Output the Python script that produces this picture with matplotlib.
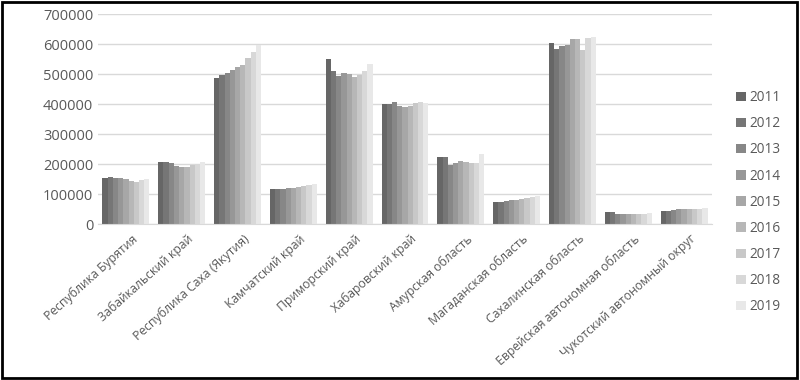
import matplotlib.pyplot as plt
import matplotlib.patches as patches
import numpy as np

plt.rcParams['font.family'] = ['Open Sans', 'DejaVu Sans']

# регионы и годы
regions = ["Республика Бурятия", "Забайкальский край", "Республика Саха (Якутия)",
           "Камчатский край", "Приморский край", "Хабаровский край",
           "Амурская область", "Магаданская область", "Сахалинская область",
           "Еврейская автономная область", "Чукотский автономный округ"]
years = ["2011", "2012", "2013", "2014", "2015", "2016", "2017", "2018", "2019"]

# значения по годам (2011..2019) для каждого региона
buryatia    = [153000, 156000, 155000, 152000, 150000, 142000, 141000, 146000, 151000]
zabaikalsky = [206000, 207000, 202000, 194000, 190000, 190000, 198000, 201000, 207000]
yakutia     = [486000, 496000, 505000, 512000, 522000, 530000, 554000, 575000, 598000]
kamchatka   = [117000, 116000, 117000, 119000, 121000, 124000, 127000, 131000, 133000]
primorsky   = [550000, 511000, 493000, 505000, 500000, 490000, 497000, 510000, 533000]
khabarovsk  = [400000, 401000, 408000, 393000, 390000, 393000, 403000, 407000, 405000]
amur        = [225000, 222000, 198000, 203000, 210000, 207000, 203000, 203000, 235000]
magadan     = [72000, 75000, 77000, 80000, 80000, 82000, 86000, 90000, 92000]
sakhalin    = [602000, 585000, 595000, 598000, 617000, 617000, 580000, 620000, 622000]
evreiskaya  = [40000, 41000, 35000, 34000, 33000, 33000, 33000, 35000, 36000]
chukotka    = [44000, 45000, 46000, 50000, 51000, 50000, 50000, 51000, 53000]

data = np.array([buryatia, zabaikalsky, yakutia, kamchatka, primorsky, khabarovsk,
                 amur, magadan, sakhalin, evreiskaya, chukotka])

fig = plt.figure(figsize=(8, 3.8), dpi=100)
ax = fig.add_axes([0.1225, 0.4105, 0.7675, 0.5525])

n = len(years)
group_w = 0.84
bar_w = group_w / n
x = np.arange(len(regions))
grays = np.linspace(0.40, 0.91, n)

for i, y in enumerate(years):
    c = (grays[i], grays[i], grays[i])
    ax.bar(x - group_w / 2 + bar_w * (i + 0.5), data[:, i], width=bar_w,
           color=c, label=y, linewidth=0)

ax.set_xlim(-0.5, len(regions) - 0.5)
ax.set_ylim(0, 700000)
ax.set_yticks(np.arange(0, 700001, 100000))
ax.set_yticklabels([str(v) for v in range(0, 700001, 100000)])
ax.grid(axis='y', color='#d9d9d9', linewidth=1)
ax.set_axisbelow(True)
for s in ['top', 'right', 'left']:
    ax.spines[s].set_visible(False)
ax.spines['bottom'].set_color('#d9d9d9')
ax.tick_params(axis='both', length=0, colors='#595959', labelsize=10.5)
ax.tick_params(axis='x', pad=6)
ax.set_xticks(x + 0.1)
ax.set_xticklabels(regions, rotation=42, ha='right', rotation_mode='anchor',
                   fontsize=8.8, color='#595959')

leg = fig.legend(loc='upper left', bbox_to_anchor=(0.905, 0.795), frameon=False,
                 fontsize=9.8, handlelength=0.7, handleheight=0.7,
                 handletextpad=0.3, labelspacing=0.82, labelcolor='#595959')

# рамка вокруг рисунка
fig.patches.append(patches.Rectangle((0.002, 0.004), 0.994, 0.992, transform=fig.transFigure,
                                     fill=False, edgecolor='black', linewidth=2))

fig.savefig("out.png", dpi=100)
